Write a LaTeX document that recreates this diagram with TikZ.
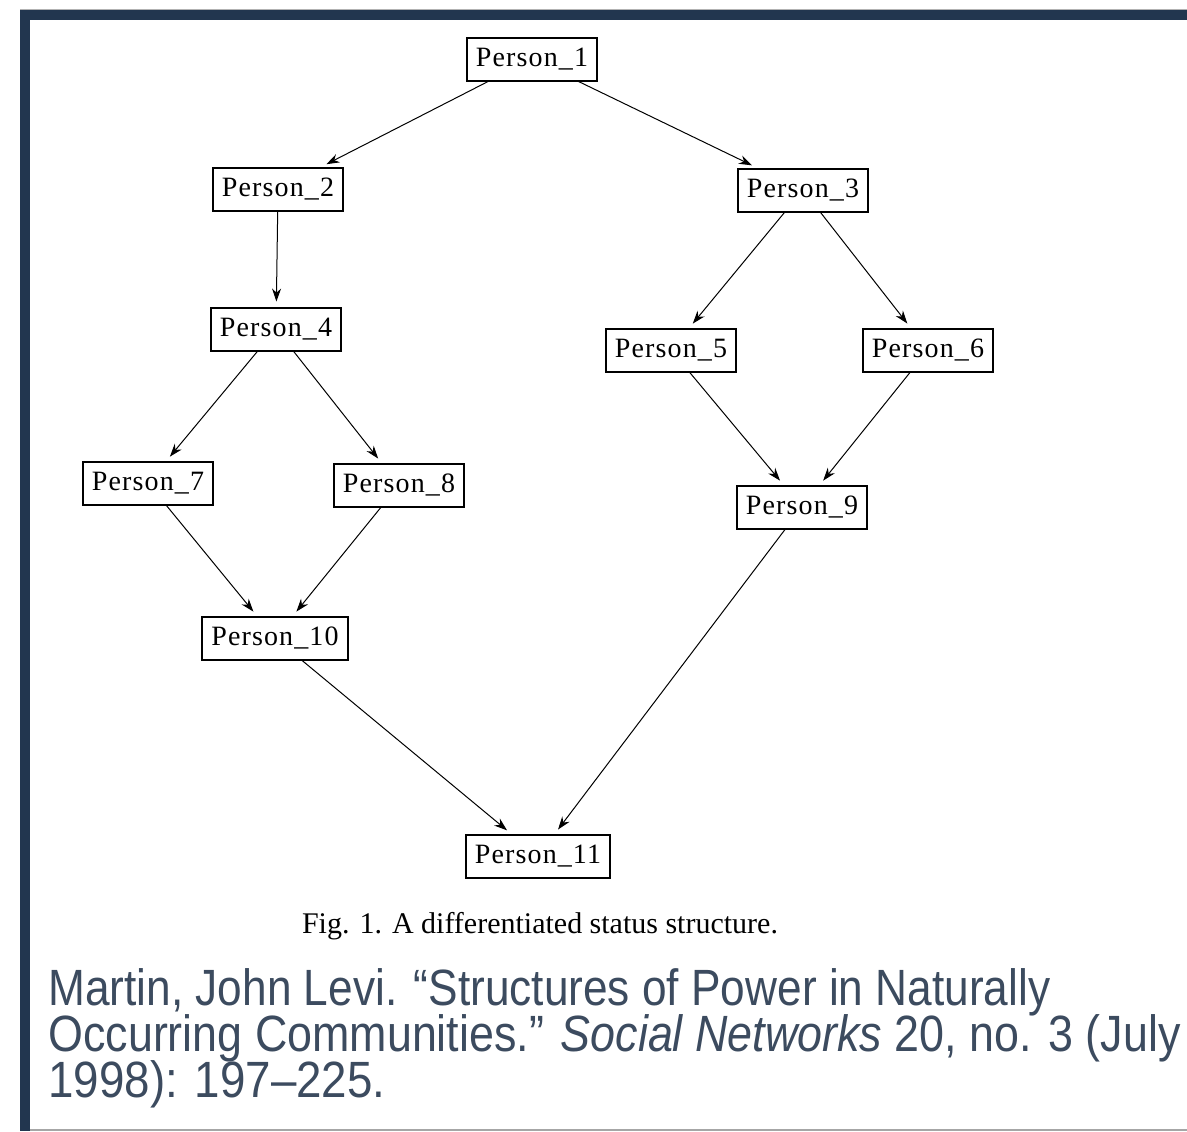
\documentclass[tikz,border=0pt]{standalone}
\usepackage{fontspec}
\usepackage{graphicx}
\setmainfont{Liberation Serif}
\newfontfamily\citefont{Liberation Sans}
\newfontfamily\personfont[LetterSpace=4]{Liberation Serif}
\usetikzlibrary{arrows.meta}
\definecolor{navyband}{RGB}{34,54,79}
\definecolor{citetext}{RGB}{60,75,95}
\newcommand{\citeline}[2]{\resizebox{#1}{\height}{#2}}

\begin{document}
\begin{tikzpicture}[x=0.5pt,y=0.5pt,yscale=-1,xscale=1,
  person/.style={draw,line width=1pt,inner xsep=4.5pt,inner ysep=0pt,minimum height=21.5pt,font=\personfont\fontsize{14}{14}\selectfont},
  link/.style={line width=0.5pt,shorten >=2.5pt,-{Stealth[length=6.5pt,width=4.5pt]}},
  citetxt/.style={anchor=base west,inner sep=0pt,color=citetext,font=\citefont\fontsize{25.5}{25.5}\selectfont}]
\useasboundingbox (0,0) rectangle (1187,1131);

%Frame
\fill [color=navyband] (20,10) rectangle (1187,20) ;
\fill [color=navyband] (20,10) rectangle (30,1131) ;
\draw [color=gray!60,line width=0.5pt] (20,9) -- (1187,9) ;
\draw [color=gray!70,line width=0.75pt] (30,1130) -- (1187,1130) ;

% Person Nodes
\node [person] (p1) at (532,59) {Person\_1};
\node [person] (p2) at (278,189) {Person\_2};
\node [person] (p3) at (803,190) {Person\_3};
\node [person] (p4) at (276,329) {Person\_4};
\node [person] (p5) at (671,350) {Person\_5};
\node [person] (p6) at (928,350) {Person\_6};
\node [person] (p7) at (148,483) {Person\_7};
\node [person] (p8) at (399,485) {Person\_8};
\node [person] (p9) at (802,507) {Person\_9};
\node [person] (p10) at (275,638) {Person\_10};
\node [person] (p11) at (538,856) {Person\_11};

%Links
\draw [link] (p1) -- (p2) ;
\draw [link] (p1) -- (p3) ;
\draw [link] (p2) -- (p4) ;
\draw [link] (p3) -- (p5) ;
\draw [link] (p3) -- (p6) ;
\draw [link] (p4) -- (p7) ;
\draw [link] (p4) -- (p8) ;
\draw [link] (p5) -- (p9) ;
\draw [link] (p6) -- (p9) ;
\draw [link] (p7) -- (p10) ;
\draw [link] (p8) -- (p10) ;
\draw [link] (p10) -- (p11) ;
\draw [link] (p9) -- (p11) ;

% Text Node
\node [anchor=base,inner sep=0pt,font=\fontsize{15}{15}\selectfont] (caption) at (540,933) {Fig. 1. A differentiated status structure.};
% Text Node
\node [citetxt] (cite1) at (48,1005) {\citeline{501pt}{Martin, John Levi. “Structures of Power in Naturally}};
\node [citetxt] (cite2) at (48,1051) {\citeline{566pt}{Occurring Communities.” \textit{Social Networks} 20, no. 3 (July}};
\node [citetxt] (cite3) at (48,1097) {\citeline{168.5pt}{1998): 197–225.}};

\end{tikzpicture}
\end{document}
